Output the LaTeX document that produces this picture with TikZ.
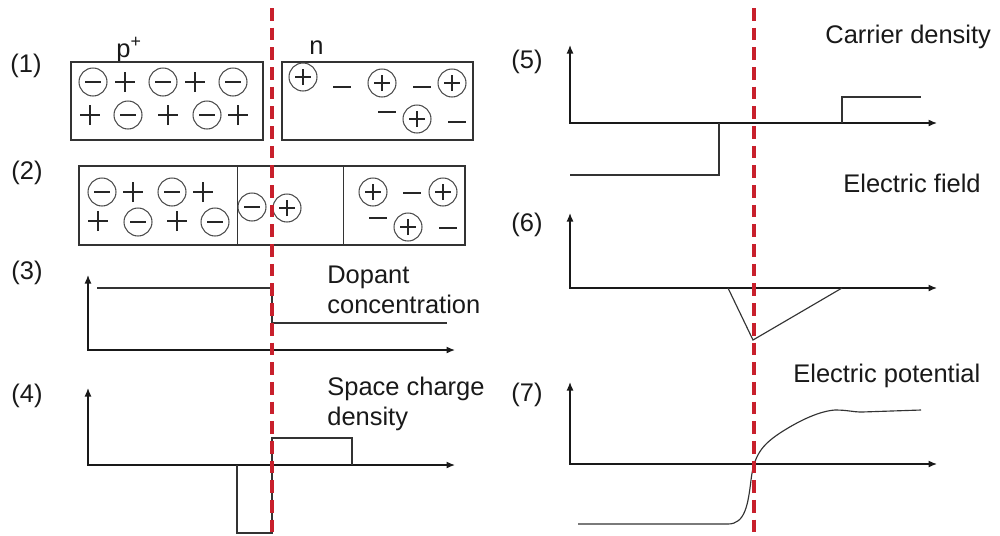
\documentclass[tikz,border=0pt]{standalone}
\usepackage{fontspec}
\setmainfont{Liberation Sans}
\usepackage{tikz}
\usetikzlibrary{positioning,calc}
\usetikzlibrary{arrows.meta}
\definecolor{JuncRed}{RGB}{200,32,44}
\tikzset{acc/.style={circle,draw=black!70,line width=0.6pt,minimum size=5.6mm,inner sep=0pt,path picture={\draw[black!85,line width=0.65pt] ([xshift=-1.6mm]path picture bounding box.center) -- ++(3.2mm,0);}}, don/.style={circle,draw=black!70,line width=0.6pt,minimum size=5.6mm,inner sep=0pt,path picture={\draw[black!85,line width=0.65pt] ([xshift=-1.6mm]path picture bounding box.center) -- ++(3.2mm,0) ([yshift=-1.6mm]path picture bounding box.center) -- ++(0,3.2mm);}}, hole/.style={minimum size=4.4mm,inner sep=0pt,path picture={\draw[black!85,line width=0.7pt] ([xshift=-2mm]path picture bounding box.center) -- ++(4mm,0) ([yshift=-2mm]path picture bounding box.center) -- ++(0,4mm);}}, elec/.style={minimum size=4mm,inner sep=0pt,path picture={\draw[black!85,line width=0.7pt] ([xshift=-1.8mm]path picture bounding box.center) -- ++(3.6mm,0);}}, lbl/.style={font=\fontsize{14.5}{17}\selectfont,inner sep=0pt,text=black!90}, box/.style={draw=black!80,line width=0.75pt}, ax/.style={draw=black!90,line width=0.75pt,{Latex[length=1.7mm,width=1.4mm]}-{Latex[length=1.7mm,width=1.4mm]}}, crv/.style={draw=black!80,line width=0.65pt}, junc/.style={draw=JuncRed,line width=2.1pt,dash pattern=on 7.2pt off 4pt}}

\begin{document}
\begin{tikzpicture}[x=0.02cm,y=-0.02cm]
\useasboundingbox (0,0) rectangle (1000,535);
\node[lbl] (l1) at (26,66) {(1)};
\node[lbl] (l2) at (27,173) {(2)};
\node[lbl] (l3) at (27,273) {(3)};
\node[lbl] (l4) at (27,396) {(4)};
\node[lbl] (l5) at (527,62) {(5)};
\node[lbl] (l6) at (527,225) {(6)};
\node[lbl] (l7) at (527,395) {(7)};
\node[lbl,anchor=base west] (tp) at (116,57) {p\textsuperscript{+}};
\node[lbl,anchor=base west] (tn) at (309,54) {n};
\draw[box] (71,62) rectangle (263,140);
\draw[box] (282,62) rectangle (473,140);
\node[acc] (a1) at (93,82) {};
\node[hole] (h1) at (125,82) {};
\node[acc] (a2) at (163,82) {};
\node[hole] (h2) at (195,82) {};
\node[acc] (a3) at (233,82) {};
\node[hole] (h3) at (90,115) {};
\node[acc] (a4) at (128,115) {};
\node[hole] (h4) at (168,115) {};
\node[acc] (a5) at (207,115) {};
\node[hole] (h5) at (238,115) {};
\node[don] (d1) at (303,77) {};
\node[elec] (e1) at (342,87) {};
\node[don] (d2) at (382,83) {};
\node[elec] (e2) at (422,87) {};
\node[don] (d3) at (452,83) {};
\node[elec] (e3) at (387,112) {};
\node[don] (d4) at (417,119) {};
\node[elec] (e4) at (457,122) {};
\draw[box] (79,166) rectangle (465,245);
\draw[box,line width=0.5pt] (237,166) -- (237,245);
\draw[box,line width=0.5pt] (343,166) -- (343,245);
\node[acc] (b1) at (102,192) {};
\node[hole] (k1) at (133,192) {};
\node[acc] (b2) at (172,192) {};
\node[hole] (k2) at (203,192) {};
\node[hole] (k3) at (98,221) {};
\node[acc] (b3) at (138,222) {};
\node[hole] (k4) at (177,221) {};
\node[acc] (b4) at (215,222) {};
\node[acc] (b5) at (252,207) {};
\node[don] (c1) at (287,208) {};
\node[don] (c2) at (373,192) {};
\node[elec] (f1) at (412,193) {};
\node[don] (c3) at (443,192) {};
\node[elec] (f2) at (378,218) {};
\node[don] (c4) at (408,227) {};
\node[elec] (f3) at (448,228) {};
\draw[ax] (88,275) |- (455,350);
\draw[crv] (97,288) -- (272,288) -- (272,323) -- (447,323);
\node[lbl,anchor=base west] (tdop) at (327,283) {Dopant};
\node[lbl,anchor=base west] (tcon) at (327,313) {concentration};
\draw[ax] (88,388) |- (455,465);
\draw[crv] (237,465) -- (237,533) -- (272,533) -- (272,438) -- (352,438) -- (352,465);
\node[lbl,anchor=base west] (tspc) at (327,395) {Space charge};
\node[lbl,anchor=base west] (tden) at (327,425) {density};
\draw[ax] (570,45) |- (937,123);
\draw[crv] (570,175) -- (719,175) -- (719,123);
\draw[crv] (842,123) -- (842,97) -- (921,97);
\node[lbl,anchor=base west] (tcar) at (825,43) {Carrier density};
\draw[ax] (570,213) |- (937,288);
\draw[crv] (728,288) -- (753,340) -- (842,288);
\node[lbl,anchor=base west] (tfld) at (843,192) {Electric field};
\draw[ax] (570,382) |- (937,464);
\draw[crv] (578,524) -- (728,524) .. controls (745,524) and (748,505) .. (751,480) .. controls (754,455) and (762,445) .. (780,433) .. controls (800,420) and (820,411) .. (835,410) .. controls (848,410) and (852,412) .. (862,412) -- (921,410);
\node[lbl,anchor=base west] (tpot) at (793,382) {Electric potential};
\draw[junc] (272,8) -- (272,535);
\draw[junc] (754,8) -- (754,535);
\end{tikzpicture}
\end{document}
